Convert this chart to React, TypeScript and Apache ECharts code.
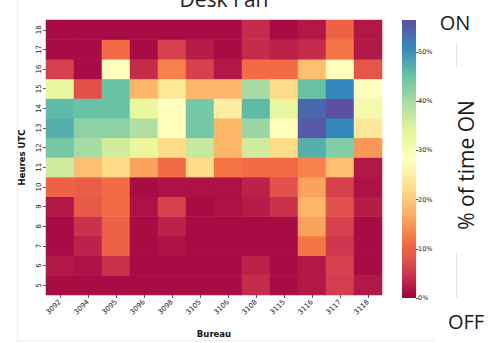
import React, { useEffect, useRef } from "react";
import * as echarts from "echarts";

const bureaus = ["3092", "3094", "3095", "3096", "3098", "3105", "3106", "3108", "3115", "3116", "3117", "3118"];
const hours = ["5", "6", "7", "8", "9", "10", "11", "12", "13", "14", "15", "16", "17", "18"];

// % of time ON, one array per hour (columns follow `bureaus`)
const h18 = [1, 1, 1, 1, 1, 1, 1, 4, 1, 2, 10, 2];
const h17 = [1, 1, 11, 1, 6, 2.5, 1, 4, 3, 4, 12, 2];
const h16 = [6, 1, 28, 4, 13, 6, 2, 11, 11, 19, 28, 8.5];
const h15 = [33, 8, 45, 18, 24, 18, 18, 40, 22, 45, 51, 28];
const h14 = [46, 45, 45, 33, 28, 44, 25, 46, 33, 54, 56.5, 31];
const h13 = [47, 42, 42, 39, 28, 44, 18, 41, 29, 55.5, 51, 24];
const h12 = [44, 40, 36, 33, 22, 37, 18, 36, 22, 47, 43, 15];
const h11 = [36, 19, 22, 16, 11, 22, 12, 11, 11, 13, 19, 2];
const h10 = [10, 9.5, 11, 1, 1.5, 1.5, 1.5, 3, 8, 16, 6, 1.5];
const h9 = [2, 9, 11, 1.5, 6, 1, 1.5, 2.5, 4.5, 18, 8, 2.5];
const h8 = [1, 4.5, 10, 1, 3, 1, 1, 1, 1, 16, 6, 1];
const h7 = [1, 3, 10, 1, 1.5, 1, 1, 1, 1, 12, 5, 1];
const h6 = [2, 1.5, 4.5, 1, 1, 1, 1, 3, 1, 2, 6, 1];
const h5 = [1, 1, 1, 1, 1, 1, 1, 4, 1, 2, 5.5, 2];

const hourRows = [h5, h6, h7, h8, h9, h10, h11, h12, h13, h14, h15, h16, h17, h18];

const vMin = 0;
const vMax = 56.5;
const colorbarTicks = [0, 10, 20, 30, 40, 50];

// matplotlib Spectral reversed
const spectralR = [
  "#9e0142", "#d53e4f", "#f46d43", "#fdae61", "#fee08b", "#ffffbf",
  "#e6f598", "#abdda4", "#66c2a5", "#3288bd", "#5e4fa2",
];

export default function App() {
  const ref = useRef<HTMLDivElement>(null);

  useEffect(() => {
    if (!ref.current) return;
    const chart = echarts.init(ref.current, undefined, { renderer: "svg" });

    const data: number[][] = [];
    hourRows.forEach((row, yi) => {
      row.forEach((v, xi) => data.push([xi, yi, v]));
    });

    const tickFont = { fontFamily: "DejaVu Sans", fontSize: 7, color: "#222" };

    chart.setOption({
      animation: false,
      backgroundColor: "#ffffff",
      grid: [
        { left: 46, top: 20, width: 336, height: 278 },
        { left: 402, top: 20, width: 14, height: 278 },
      ],
      xAxis: [
        {
          type: "category",
          gridIndex: 0,
          data: bureaus,
          axisLine: { show: false },
          axisTick: { show: true, alignWithLabel: true, length: 3, lineStyle: { color: "#333", width: 0.8 } },
          axisLabel: { ...tickFont, rotate: 45, margin: 6, interval: 0 },
          splitLine: { show: false },
          name: "Bureau",
          nameLocation: "middle",
          nameGap: 34,
          nameTextStyle: { fontFamily: "DejaVu Sans", fontSize: 8.5, fontWeight: "bold", color: "#111" },
        },
        {
          type: "category",
          gridIndex: 1,
          data: [""],
          show: false,
        },
      ],
      yAxis: [
        {
          type: "category",
          gridIndex: 0,
          data: hours,
          axisLine: { show: false },
          axisTick: { show: true, alignWithLabel: true, length: 3, lineStyle: { color: "#333", width: 0.8 } },
          axisLabel: { ...tickFont, rotate: 90, margin: 4, interval: 0 },
          splitLine: { show: false },
          name: "Heures UTC",
          nameLocation: "middle",
          nameGap: 20,
          nameRotate: 90,
          nameTextStyle: { fontFamily: "DejaVu Sans", fontSize: 8.5, fontWeight: "bold", color: "#111" },
        },
        {
          type: "value",
          gridIndex: 1,
          min: vMin,
          max: vMax,
          interval: 10,
          position: "right",
          axisLine: { show: false },
          axisTick: { show: true, length: 2.5, lineStyle: { color: "#333", width: 0.8 } },
          axisLabel: {
            ...tickFont,
            fontSize: 6.5,
            margin: 2,
            showMaxLabel: false,
            formatter: (v: number) => (colorbarTicks.indexOf(v) >= 0 ? v + "%" : ""),
          },
          splitLine: { show: false },
        },
      ],
      visualMap: {
        type: "continuous",
        show: false,
        min: vMin,
        max: vMax,
        seriesIndex: 0,
        inRange: { color: spectralR },
      },
      series: [
        {
          type: "heatmap",
          xAxisIndex: 0,
          yAxisIndex: 0,
          data,
          emphasis: { disabled: true },
          itemStyle: { borderWidth: 0 },
        },
        {
          type: "bar",
          xAxisIndex: 1,
          yAxisIndex: 1,
          data: [vMax],
          barWidth: "100%",
          silent: true,
          itemStyle: {
            color: new echarts.graphic.LinearGradient(
              0, 1, 0, 0,
              spectralR.map((c, i) => ({ offset: i / (spectralR.length - 1), color: c }))
            ),
          },
        },
      ],
      graphic: [
        { type: "line", shape: { x1: 17.5, y1: 0, x2: 17.5, y2: 340 }, style: { stroke: "#eeeeee", lineWidth: 1 }, silent: true },
        { type: "line", shape: { x1: 17, y1: 340.5, x2: 435, y2: 340.5 }, style: { stroke: "#eeeeee", lineWidth: 1 }, silent: true },
        { type: "line", shape: { x1: 456.5, y1: 43, x2: 456.5, y2: 67 }, style: { stroke: "#e6e6e6", lineWidth: 1 }, silent: true },
        { type: "line", shape: { x1: 456.5, y1: 253, x2: 456.5, y2: 298 }, style: { stroke: "#e6e6e6", lineWidth: 1 }, silent: true },
        {
          type: "text", x: 224, y: -1, silent: true,
          style: { text: "Desk Fan", fontFamily: "Open Sans", fontSize: 21, fill: "#222", align: "center", verticalAlign: "middle" },
        },
        {
          type: "text", x: 455, y: 22, silent: true,
          style: { text: "ON", fontFamily: "Open Sans", fontSize: 20, fill: "#1a1a1a", align: "center", verticalAlign: "middle" },
        },
        {
          type: "text", x: 466, y: 165, rotation: Math.PI / 2, silent: true,
          style: { text: "% of time ON", fontFamily: "Open Sans", fontSize: 21, fill: "#1a1a1a", align: "center", verticalAlign: "middle" },
        },
        {
          type: "text", x: 466, y: 321, silent: true,
          style: { text: "OFF", fontFamily: "Open Sans", fontSize: 20, fill: "#1a1a1a", align: "center", verticalAlign: "middle" },
        },
      ],
    });

    return () => chart.dispose();
  }, []);

  return (
    <div
      ref={ref}
      style={{ position: "fixed", left: 0, top: 0, width: 497, height: 343, background: "#fff" }}
    />
  );
}
